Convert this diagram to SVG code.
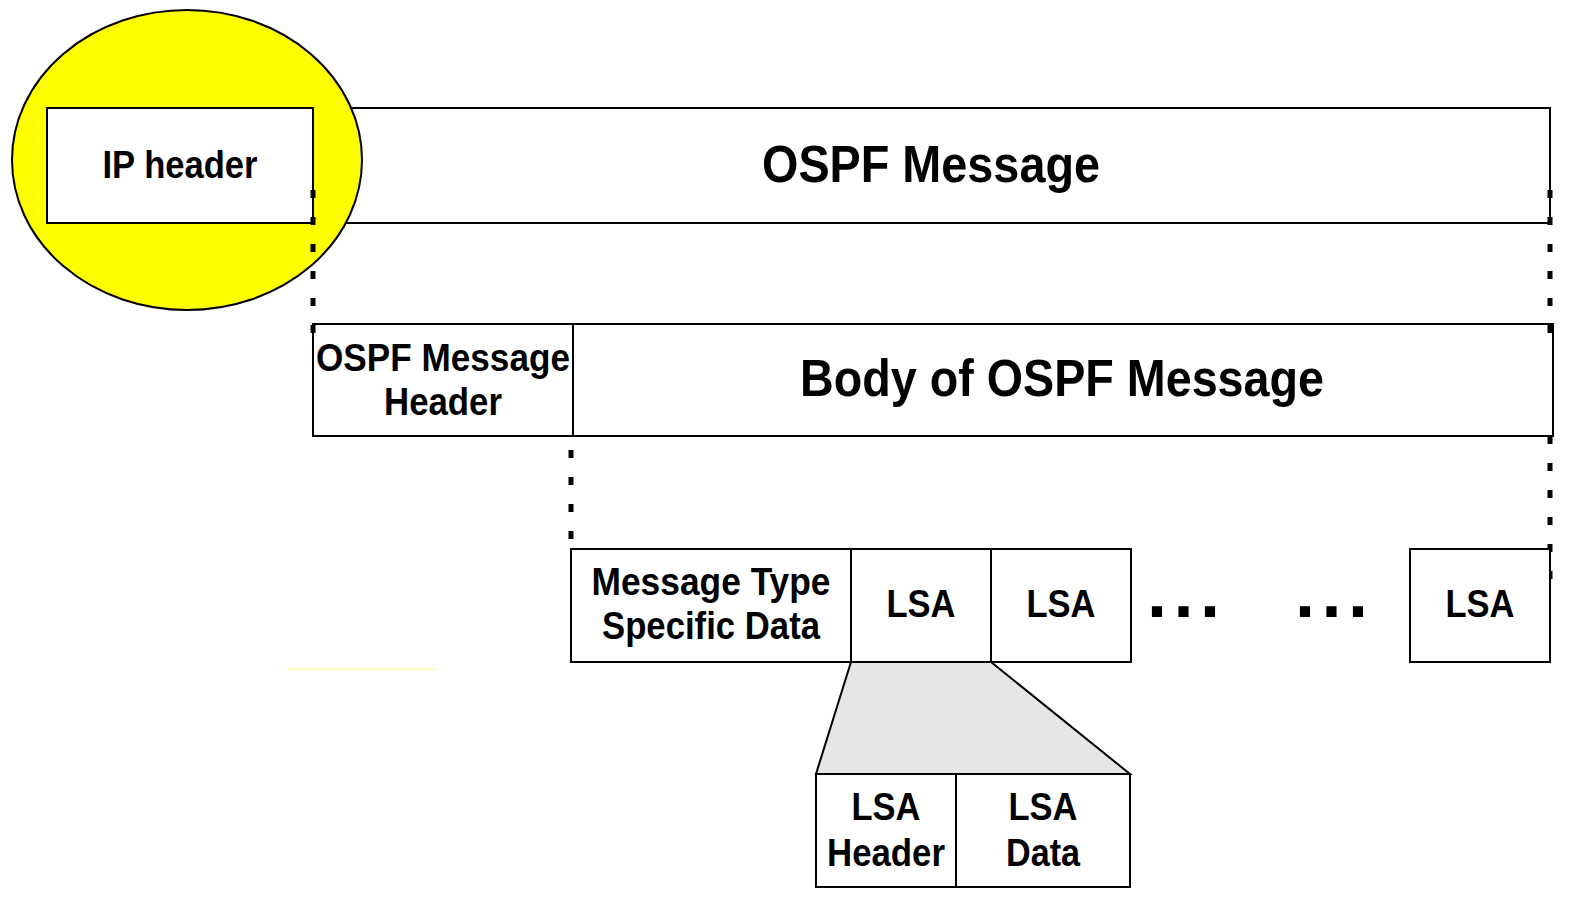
<svg xmlns="http://www.w3.org/2000/svg" width="1580" height="904" viewBox="0 0 1580 904">
<style>
.box{fill:#ffffff;stroke:#000000;stroke-width:2}
.t{font-family:"Liberation Sans",Arial,sans-serif;font-weight:bold;fill:#000000;text-anchor:middle}
.s38{font-size:38px}
.s52{font-size:52px}
.dash{stroke:#000000;stroke-width:5;stroke-dasharray:8 19;fill:none}
.dots{font-family:"Liberation Sans",Arial,sans-serif;font-weight:bold;font-size:72px;letter-spacing:6.5px;fill:#000000}
</style>
<rect width="1580" height="904" fill="#ffffff"/>
<g id="ospf-message">
<rect class="box" x="313" y="108" width="1237" height="115"/>
<text class="t s52" x="931" y="182" textLength="338" lengthAdjust="spacingAndGlyphs">OSPF Message</text>
</g>
<g id="highlight">
<ellipse cx="187" cy="160" rx="175" ry="150" fill="#ffff00" stroke="#000000" stroke-width="2"/>
</g>
<g id="ip-header">
<rect class="box" x="47" y="108" width="266" height="115"/>
<text class="t s38" x="180" y="178" textLength="155" lengthAdjust="spacingAndGlyphs">IP header</text>
</g>
<g id="ospf-message-header">
<rect class="box" x="313" y="324" width="260" height="112"/>
<text class="t s38" x="443" y="371" textLength="254" lengthAdjust="spacingAndGlyphs">OSPF Message</text>
<text class="t s38" x="443" y="415" textLength="118" lengthAdjust="spacingAndGlyphs">Header</text>
</g>
<g id="body">
<rect class="box" x="573" y="324" width="980" height="112"/>
<text class="t s52" x="1062" y="396" textLength="524" lengthAdjust="spacingAndGlyphs">Body of OSPF Message</text>
</g>
<g id="connectors">
<line class="dash" x1="313" y1="190" x2="313" y2="334"/>
<line class="dash" x1="1550" y1="190" x2="1550" y2="334"/>
<line class="dash" x1="571" y1="450" x2="571" y2="548"/>
<line class="dash" x1="1550" y1="436" x2="1550" y2="580"/>
<polygon points="851,662 991,662 1130,774 816,774" fill="#e6e6e6" stroke="#000000" stroke-width="2"/>
<line x1="285" y1="669" x2="436" y2="669" stroke="#ffffa8" stroke-width="1.5"/>
</g>
<g id="type-specific-data">
<rect class="box" x="571" y="549" width="280" height="113"/>
<text class="t s38" x="711" y="595" textLength="239" lengthAdjust="spacingAndGlyphs">Message Type</text>
<text class="t s38" x="711" y="639" textLength="218" lengthAdjust="spacingAndGlyphs">Specific Data</text>
</g>
<g id="lsa-1">
<rect class="box" x="851" y="549" width="140" height="113"/>
<text class="t s38" x="921" y="617" textLength="69" lengthAdjust="spacingAndGlyphs">LSA</text>
</g>
<g id="lsa-2">
<rect class="box" x="991" y="549" width="140" height="113"/>
<text class="t s38" x="1061" y="617" textLength="69" lengthAdjust="spacingAndGlyphs">LSA</text>
</g>
<g id="ellipsis">
<text class="dots" x="1147" y="617">...</text>
<text class="dots" x="1295" y="617">...</text>
</g>
<g id="lsa-n">
<rect class="box" x="1410" y="549" width="140" height="113"/>
<text class="t s38" x="1480" y="617" textLength="69" lengthAdjust="spacingAndGlyphs">LSA</text>
</g>
<g id="lsa-header">
<rect class="box" x="816" y="774" width="140" height="113"/>
<text class="t s38" x="886" y="820" textLength="69" lengthAdjust="spacingAndGlyphs">LSA</text>
<text class="t s38" x="886" y="866" textLength="118" lengthAdjust="spacingAndGlyphs">Header</text>
</g>
<g id="lsa-data">
<rect class="box" x="956" y="774" width="174" height="113"/>
<text class="t s38" x="1043" y="820" textLength="69" lengthAdjust="spacingAndGlyphs">LSA</text>
<text class="t s38" x="1043" y="866" textLength="74" lengthAdjust="spacingAndGlyphs">Data</text>
</g>
</svg>
